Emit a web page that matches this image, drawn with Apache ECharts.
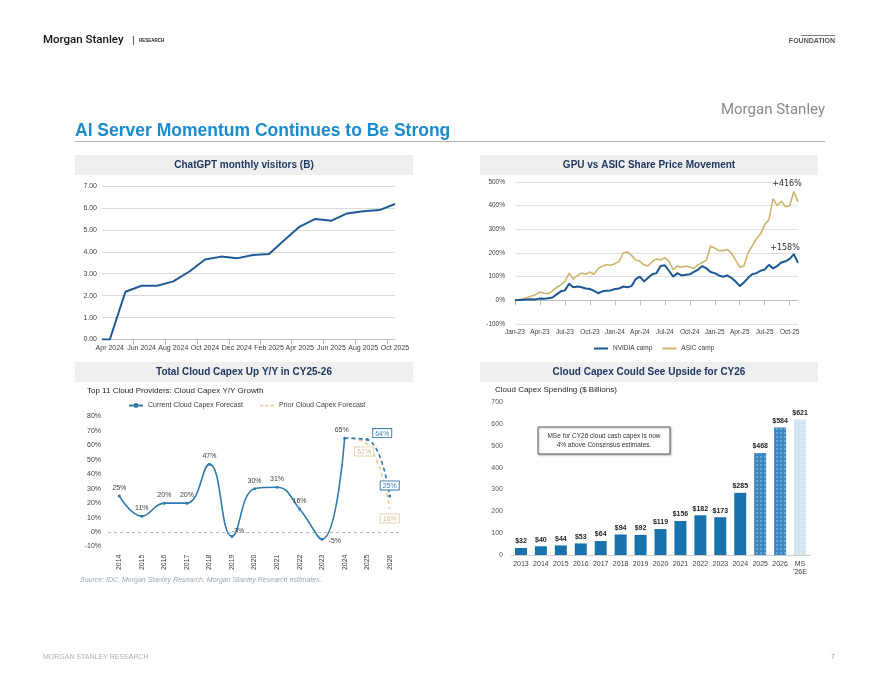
<!DOCTYPE html>
<html>
<head>
<meta charset="utf-8">
<script src="https://cdn.jsdelivr.net/npm/echarts@6/dist/echarts.min.js"></script>
<style>
html,body{margin:0;padding:0;background:#fff;}
#c{width:880px;height:680px;}
</style>
</head>
<body>
<div id="c"></div>
<script>
// ---------- Chart 1: ChatGPT monthly visitors (B) ----------
const visitorDates = ['2024-03-17','2024-04-01','2024-05-01','2024-06-01','2024-07-01','2024-08-01','2024-09-01','2024-10-01','2024-11-01','2024-12-01',
  '2025-01-01','2025-02-01','2025-03-01','2025-04-01','2025-05-01','2025-06-01','2025-07-01','2025-08-01','2025-09-01','2025-10-01'];
const visitorsB = [0,0,2.18,2.45,2.45,2.65,3.1,3.65,3.78,3.7,3.85,3.9,4.5,5.15,5.5,5.42,5.75,5.85,5.9,6.18];
const visitorLabelDates = ['2024-04-01','2024-06-01','2024-08-01','2024-10-01','2024-12-01','2025-02-01','2025-04-01','2025-06-01','2025-08-01','2025-10-01'];
const visitorTickDates = ['2024-05-16','2024-07-16','2024-09-16','2024-11-16','2025-01-16','2025-03-16','2025-05-16','2025-07-16','2025-09-16'];
const visitorTicks = ['0.00','1.00','2.00','3.00','4.00','5.00','6.00','7.00'];
const monthNames = ['Jan','Feb','Mar','Apr','May','Jun','Jul','Aug','Sep','Oct','Nov','Dec'];

// ---------- Chart 2: GPU vs ASIC share price movement (semi-monthly, %) ----------
const priceStart = [2023, 0]; // Jan 2023
const priceQuarterLabels = ['Jan-23','Apr-23','Jul-23','Oct-23','Jan-24','Apr-24','Jul-24','Oct-24','Jan-25','Apr-25','Jul-25','Oct-25'];
const nvidiaCamp = [0,1,2,4,5,4,8,7,9,12,25,38,42,70,55,58,55,50,48,40,30,38,40,42,48,50,58,55,60,90,100,80,95,110,115,145,148,125,100,115,105,108,110,120,130,145,135,120,115,105,100,105,95,80,60,75,95,110,115,125,130,150,135,145,160,165,175,195,158];
const asicCamp = [0,3,8,12,18,25,35,30,28,40,55,65,80,115,90,105,115,110,120,110,135,145,150,148,155,165,200,205,190,170,165,150,145,165,175,170,180,165,130,145,140,145,140,135,150,160,170,230,220,210,210,215,200,170,140,145,200,230,260,280,320,340,430,400,420,395,400,460,416];
const priceTicks = ['-100%','0%','100%','200%','300%','400%','500%'];

// ---------- Chart 3: Cloud capex Y/Y growth ----------
const capexYears = ['2014','2015','2016','2017','2018','2019','2020','2021','2022','2023','2024','2025','2026'];
const currentGrowth = [25,11,20,20,47,-3,30,31,16,-5,65,null,null];
const currentGrowthFcst = [null,null,null,null,null,null,null,null,null,null,65,64,25];
const priorGrowthFcst = [null,null,null,null,null,null,null,null,null,null,65,61,16];
const growthTicks = ['-10%','0%','10%','20%','30%','40%','50%','60%','70%','80%'];

// ---------- Chart 4: Cloud capex spending ($B) ----------
const spendCats = ['2013','2014','2015','2016','2017','2018','2019','2020','2021','2022','2023','2024','2025','2026','MS\n\'26E'];
const spendValues = [32,40,44,53,64,94,92,119,156,182,173,285,468,584,621];
const spendTicks = ['0','100','200','300','400','500','600','700'];

// helpers
const priceCats = nvidiaCamp.map((_, i) => {
  const m = priceStart[1] + Math.floor(i / 2);
  const y = priceStart[0] + Math.floor(m / 12);
  return y + '-' + String(m % 12 + 1).padStart(2, '0') + (i % 2 ? '-15' : '-01');
});
const dayNo = (s) => Math.round(new Date(s + 'T00:00:00Z').getTime() / 86400000);
const dayLabel = (n) => { const d = new Date(n * 86400000); return monthNames[d.getUTCMonth()] + ' ' + d.getUTCFullYear(); };

const FONT = 'Liberation Sans, Arial, sans-serif';
const axisTxt = {fontFamily: FONT, fontSize: 7, color: '#404040'};
const navy = '#1f3864';

const chart = echarts.init(document.getElementById('c'), null, {renderer: 'canvas'});

function headerBox(x, y, w, h, text) {
  return [
    {type: 'rect', shape: {x: x, y: y, width: w, height: h}, style: {fill: '#efefef'}, silent: true},
    {type: 'text', x: x + w / 2, y: y + h / 2, style: {text: text, font: 'bold 10px ' + FONT, fill: navy, align: 'center', verticalAlign: 'middle'}}
  ];
}

const spendData = spendValues.map((v, i) => {
  const item = {value: v};
  if (i === 12 || i === 13) {
    item.itemStyle = {color: '#3a86c2', decal: {symbol: 'rect', symbolSize: 0.8, color: 'rgba(255,255,255,0.45)', dashArrayX: 2, dashArrayY: 2}};
  } else if (i === 14) {
    item.itemStyle = {color: '#cfe5f3', decal: {symbol: 'rect', symbolSize: 0.8, color: 'rgba(255,255,255,0.5)', dashArrayX: 2, dashArrayY: 2}};
  }
  return item;
});

function boxLabel(col, border, pos, offset) {
  return {show: true, position: pos, offset: offset, formatter: '{c}%', fontFamily: FONT, fontSize: 7, color: col,
    borderColor: border, borderWidth: 1, padding: [1, 2, 0, 2], backgroundColor: '#fff'};
}

const curData = currentGrowth.map((v, i) => {
  if (v === null) return null;
  const o = {value: v};
  if (i === 5) o.label = {position: 'top', offset: [6, 3]};
  if (i === 9) o.label = {position: 'right', offset: [2, 2]};
  if (i === 10) o.label = {position: 'top', offset: [-3, 0]};
  return o;
});
const curFcstData = currentGrowthFcst.map((v, i) => {
  if (v === null) return null;
  if (i === 11) return {value: v, label: boxLabel('#3b7fb3', '#3b7fb3', 'top', [15, 4])};
  if (i === 12) return {value: v, label: boxLabel('#3b7fb3', '#3b7fb3', 'top', [0, 0])};
  return {value: v, symbol: 'none'};
});
const priorData = priorGrowthFcst.map((v, i) => {
  if (v === null) return null;
  if (i === 11) return {value: v, symbol: 'circle', symbolSize: 1, label: boxLabel('#d6b98f', '#e6d2b0', 'bottom', [-3, -2])};
  if (i === 12) return {value: v, symbol: 'circle', symbolSize: 1, label: boxLabel('#d6b98f', '#e6d2b0', 'bottom', [0, 0])};
  return v;
});

function endLbl(off) {
  return {show: true, distance: 0, align: 'center', verticalAlign: 'bottom', offset: off,
    formatter: (p) => '+' + p.value + '%', fontSize: 8, color: '#333', fontFamily: 'DejaVu Sans'};
}

const option = {
  animation: false,
  textStyle: {fontFamily: FONT},
  grid: [
    {left: 102, top: 186, width: 293, height: 153.5, outerBoundsMode: 'none'},
    {left: 515, top: 182, width: 283, height: 142, outerBoundsMode: 'none'},
    {left: 108, top: 416.5, width: 293, height: 130, outerBoundsMode: 'none'},
    {left: 511, top: 402.3, width: 299, height: 152.7, outerBoundsMode: 'none'}
  ],
  xAxis: [
    {gridIndex: 0, type: 'value', min: dayNo(visitorDates[0]), max: dayNo(visitorDates[visitorDates.length - 1]),
      splitLine: {show: false},
      axisLine: {lineStyle: {color: '#bfbfbf'}},
      axisTick: {show: true, customValues: visitorTickDates.map(dayNo), lineStyle: {color: '#bfbfbf'}},
      axisLabel: Object.assign({}, axisTxt, {margin: 5, customValues: visitorLabelDates.map(dayNo), showMinLabel: true, showMaxLabel: true,
        formatter: (v) => dayLabel(v)})},
    {gridIndex: 1, type: 'category', data: priceCats, boundaryGap: false,
      axisLine: {lineStyle: {color: '#bfbfbf'}}, axisTick: {show: true, interval: (i) => i % 6 === 0, lineStyle: {color: '#bfbfbf'}},
      axisLabel: Object.assign({}, axisTxt, {fontSize: 6.5, interval: (i) => i % 6 === 0, margin: 5,
        formatter: (v, i) => priceQuarterLabels[i / 6] || ''})},
    {gridIndex: 2, type: 'category', data: capexYears, boundaryGap: true,
      axisLine: {show: false}, axisTick: {show: false},
      axisLabel: Object.assign({}, axisTxt, {rotate: 90, margin: 8, fontSize: 7, interval: 0})},
    {gridIndex: 3, type: 'category', data: spendCats, boundaryGap: true,
      axisLine: {lineStyle: {color: '#d0d0d0'}}, axisTick: {show: false},
      axisLabel: Object.assign({}, axisTxt, {margin: 5, fontSize: 7, lineHeight: 8, interval: 0})}
  ],
  yAxis: [
    {gridIndex: 0, type: 'value', min: 0, max: 7, interval: 1,
      axisLine: {show: false}, axisTick: {show: false}, splitLine: {lineStyle: {color: '#d9d9d9'}},
      axisLabel: Object.assign({}, axisTxt, {margin: 5, formatter: (v) => visitorTicks[v]})},
    {gridIndex: 1, type: 'value', min: -100, max: 500, interval: 100,
      axisLine: {show: false}, axisTick: {show: false}, splitLine: {lineStyle: {color: '#e0e0e0'}},
      axisLabel: Object.assign({}, axisTxt, {fontSize: 6.5, margin: 10, formatter: (v) => priceTicks[(v + 100) / 100]})},
    {gridIndex: 2, type: 'value', min: -10, max: 80, interval: 10,
      axisLine: {show: false}, axisTick: {show: false}, splitLine: {show: false},
      axisLabel: Object.assign({}, axisTxt, {margin: 7, formatter: (v) => growthTicks[(v + 10) / 10]})},
    {gridIndex: 3, type: 'value', min: 0, max: 700, interval: 100,
      axisLine: {show: false}, axisTick: {show: false}, splitLine: {show: false},
      axisLabel: Object.assign({}, axisTxt, {color: '#595959', margin: 8, formatter: (v) => spendTicks[v / 100]})}
  ],
  legend: [
    {data: [{name: 'NVIDIA camp', icon: 'rect'}, {name: 'ASIC camp', icon: 'rect'}], left: 594, top: 345, padding: 0,
      itemWidth: 14, itemHeight: 2, itemGap: 10,
      textStyle: {fontFamily: FONT, fontSize: 6.5, color: '#404040'}},
    {data: [{name: 'Current Cloud Capex Forecast'},
            {name: 'Prior Cloud Capex Forecast', icon: 'path://M0,0h4v1.5h-4z M6,0h4v1.5h-4z M12,0h4v1.5h-4z'}],
      left: 128, top: 402, padding: 0, itemWidth: 14, itemHeight: 6, itemGap: 17,
      textStyle: {fontFamily: FONT, fontSize: 7, color: '#404040'}}
  ],
  series: [
    {name: 'ChatGPT monthly visitors', type: 'line', xAxisIndex: 0, yAxisIndex: 0,
      data: visitorDates.map((d, i) => [dayNo(d), visitorsB[i]]),
      symbol: 'none', lineStyle: {color: '#1f5a96', width: 2}, itemStyle: {color: '#1f5a96'}},
    {name: 'ASIC camp', type: 'line', xAxisIndex: 1, yAxisIndex: 1, data: asicCamp,
      symbol: 'none', lineStyle: {color: '#cdb56c', width: 1.6}, itemStyle: {color: '#cdb56c'},
      endLabel: endLbl([-11, -14])},
    {name: 'NVIDIA camp', type: 'line', xAxisIndex: 1, yAxisIndex: 1, data: nvidiaCamp,
      symbol: 'none', lineStyle: {color: '#1c5795', width: 2}, itemStyle: {color: '#1c5795'},
      endLabel: endLbl([-13, -11])},
    {name: 'Prior Cloud Capex Forecast', type: 'line', xAxisIndex: 2, yAxisIndex: 2, data: priorData, smooth: 0.45,
      symbol: 'none', lineStyle: {color: '#f5c894', width: 1.6, type: [4, 3]}, itemStyle: {color: '#f5c894'}},
    {name: 'Current Cloud Capex Forecast', type: 'line', xAxisIndex: 2, yAxisIndex: 2, data: curData, smooth: 0.45,
      symbol: 'circle', symbolSize: 3, lineStyle: {color: '#2f7bb0', width: 1.6}, itemStyle: {color: '#2f7bb0'},
      label: {show: true, position: 'top', distance: 3, formatter: '{c}%', fontFamily: FONT, fontSize: 7, color: '#404040'},
      markLine: {silent: true, symbol: 'none', label: {show: false}, lineStyle: {color: '#aaaaaa', type: [3, 3], width: 0.8},
        data: [{yAxis: 0}]}},
    {name: 'Current Fcst', type: 'line', xAxisIndex: 2, yAxisIndex: 2, data: curFcstData, smooth: 0.45,
      symbol: 'circle', symbolSize: 3, lineStyle: {color: '#2f7bb0', width: 1.6, type: [4, 3]}, itemStyle: {color: '#2f7bb0'}},
    {name: 'Cloud Capex Spending', type: 'bar', xAxisIndex: 3, yAxisIndex: 3, data: spendData, barWidth: 12,
      itemStyle: {color: '#1a72ad'},
      label: {show: true, position: 'top', distance: 3, formatter: '${c}', fontFamily: FONT, fontSize: 7, fontWeight: 'bold', color: '#262626'}}
  ],
  graphic: [
    // page header
    {type: 'text', x: 43, y: 40, style: {text: 'Morgan Stanley', font: '500 11.5px Roboto, sans-serif', fill: '#111', verticalAlign: 'middle'}},
    {type: 'rect', shape: {x: 133, y: 36, width: 0.8, height: 9}, style: {fill: '#333'}},
    {type: 'text', x: 139, y: 40.5, style: {text: 'RESEARCH', font: 'bold 4.5px ' + FONT, fill: '#222', verticalAlign: 'middle'}},
    {type: 'rect', shape: {x: 801, y: 35, width: 34, height: 0.8}, style: {fill: '#555'}},
    {type: 'text', x: 835, y: 41, style: {text: 'FOUNDATION', font: 'bold 7px ' + FONT, fill: '#555', align: 'right', verticalAlign: 'middle'}},
    {type: 'text', x: 825, y: 110, style: {text: 'Morgan Stanley', font: '15px Roboto, sans-serif', fill: '#8a8a8a', align: 'right', verticalAlign: 'middle'}},
    {type: 'text', x: 75, y: 131, style: {text: 'AI Server Momentum Continues to Be Strong', font: 'bold 17.5px ' + FONT, fill: '#1b8bd0', verticalAlign: 'middle'}},
    {type: 'rect', shape: {x: 75, y: 141, width: 750, height: 0.8}, style: {fill: '#9a9a9a'}},
    ...headerBox(75, 155, 338, 20, 'ChatGPT monthly visitors (B)'),
    ...headerBox(480, 155, 338, 20, 'GPU vs ASIC Share Price Movement'),
    ...headerBox(75, 362, 338, 20, 'Total Cloud Capex Up Y/Y in CY25-26'),
    ...headerBox(480, 362, 338, 20, 'Cloud Capex Could See Upside for CY26'),
    {type: 'text', x: 87, y: 391, style: {text: 'Top 11 Cloud Providers: Cloud Capex Y/Y Growth', font: '8px ' + FONT, fill: '#262626', verticalAlign: 'middle'}},
    {type: 'text', x: 495, y: 390, style: {text: 'Cloud Capex Spending ($ Billions)', font: '8px ' + FONT, fill: '#262626', verticalAlign: 'middle'}},
    {type: 'rect', shape: {x: 538, y: 427, width: 132, height: 27}, style: {fill: '#fff', stroke: '#595959', lineWidth: 1, shadowBlur: 2, shadowOffsetX: 1, shadowOffsetY: 1, shadowColor: 'rgba(0,0,0,0.25)'}},
    {type: 'text', x: 604, y: 440.5, style: {text: 'MSe for CY26 cloud cash capex is now\n4% above Consensus estimates.', font: '6.5px ' + FONT, fill: '#333', align: 'center', verticalAlign: 'middle', lineHeight: 9}},
    {type: 'text', x: 80, y: 580, style: {text: 'Source: IDC, Morgan Stanley Research. Morgan Stanley Research estimates.', font: 'italic 7px ' + FONT, fill: '#9aa7b4', verticalAlign: 'middle'}},
    // footer
    {type: 'text', x: 43, y: 657, style: {text: 'MORGAN STANLEY RESEARCH', font: '7px ' + FONT, fill: '#b0b0b0', verticalAlign: 'middle'}},
    {type: 'text', x: 835, y: 657, style: {text: '7', font: '7px ' + FONT, fill: '#999', align: 'right', verticalAlign: 'middle'}}
  ]
};
chart.setOption(option);
</script>
</body>
</html>
